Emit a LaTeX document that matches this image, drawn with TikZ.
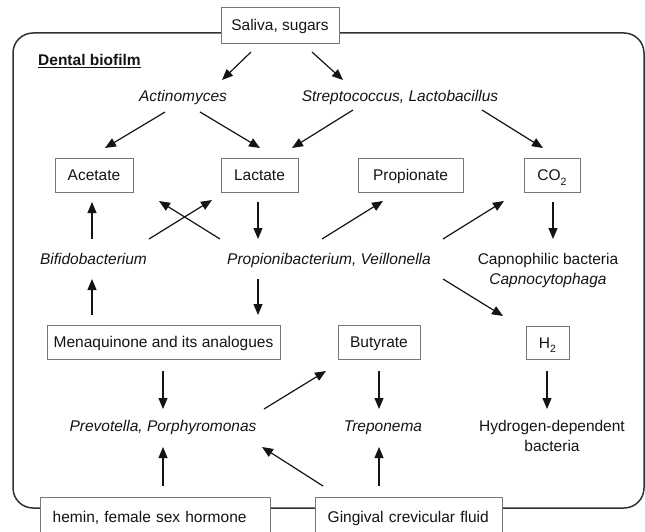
\documentclass[tikz,border=0pt]{standalone}
\usepackage{fontspec}
\setmainfont{Liberation Sans}
\usetikzlibrary{arrows.meta}
\definecolor{framegray}{RGB}{50,50,50}
\definecolor{boxgray}{RGB}{120,120,120}
\definecolor{ink}{RGB}{20,20,20}
\newcommand{\lowsub}[1]{\raisebox{-0.3em}{\fontsize{10.5}{10.5}\selectfont #1}}

\begin{document}
\begin{tikzpicture}[x=1pt, y=-1pt,
    every node/.style={font=\fontsize{15.5}{20.5}\selectfont, text=ink, inner sep=0pt},
    box/.style={draw=boxgray, line width=0.9pt, fill=white,
                minimum height=34pt, text height=11pt, text depth=0pt},
    taxon/.style={anchor=base, font=\fontsize{15.5}{20.5}\selectfont\itshape},
    arr/.style={-{Triangle[length=11pt,width=9pt]}, line width=1.2pt, draw=ink}]
  \useasboundingbox (0,0) rectangle (645,532);
  % biofilm frame
  \draw[framegray, line width=1.5pt, rounded corners=20pt] (13,33) rectangle (644,508);

  \node[box, minimum width=118pt, minimum height=36pt] (sal) at (280,25) {Saliva, sugars};
  \node[anchor=base west, font=\fontsize{15.5}{20.5}\selectfont\bfseries]
    (bio) at (38,65.7) {\underline{Dental biofilm}};
  \node[taxon] (act) at (183,101.5) {Actinomyces};
  \node[taxon] (str) at (400,101.5) {Streptococcus, Lactobacillus};

  \node[box, minimum width=78pt] (ace) at (94,175) {Acetate};
  \node[box, minimum width=77pt] (lac) at (259.5,175) {Lactate};
  \node[box, minimum width=105pt] (pro) at (410.5,175) {Propionate};
  \node[box, minimum width=56pt] (co2) at (552,175) {CO\lowsub{2}};

  \node[taxon] (bif) at (93.5,264) {Bifidobacterium};
  \node[taxon] (pvl) at (329,264) {Propionibacterium, Veillonella};
  \node[anchor=north, align=center] (cap) at (548,253)
    {Capnophilic bacteria\\\textit{Capnocytophaga}};

  \node[box, minimum width=233pt] (men) at (163.5,342) {Menaquinone and its analogues};
  \node[box, minimum width=82pt] (but) at (379,342) {Butyrate};
  \node[box, minimum width=43pt, minimum height=33pt] (hyd) at (547.5,342.5) {H\lowsub{2}};

  \node[taxon] (prev) at (163,431) {Prevotella, Porphyromonas};
  \node[taxon] (tre) at (383,431) {Treponema};
  \node[anchor=north, align=center] (hdb) at (552,420) {Hydrogen-dependent\\bacteria};

  \node[box, text width=204.6pt, align=left, inner xsep=12.7pt, minimum height=40pt]
    (hem) at (155,517) {hemin, female sex hormone};
  \node[box, text width=161.6pt, align=left, inner xsep=12.7pt, minimum height=40pt]
    (gcf) at (408.5,517) {Gingival crevicular fluid};

  % fluxes
  \draw[arr] ([shift={(-29,27)}]sal.center) -- ([shift={(39,-21.5)}]act.base);
  \draw[arr] ([shift={(32,27)}]sal.center) -- ([shift={(-57,-21.5)}]str.base);
  \draw[arr] ([shift={(-18,10.5)}]act.base) -- ([shift={(11,-27)}]ace.center);
  \draw[arr] ([shift={(17,10.5)}]act.base) -- ([shift={(0.5,-27)}]lac.center);
  \draw[arr] ([shift={(-47,8.5)}]str.base) -- ([shift={(32.5,-27)}]lac.center);
  \draw[arr] ([shift={(82,8.5)}]str.base) -- ([shift={(-9,-27)}]co2.center);
  \draw[arr] ([shift={(-1.5,-25)}]bif.base) -- ([shift={(-2,27)}]ace.center);
  \draw[arr] ([shift={(55.5,-25)}]bif.base) -- ([shift={(-47.5,25)}]lac.center);
  \draw[arr] ([shift={(-109,-25)}]pvl.base) -- ([shift={(65,26)}]ace.center);
  \draw[arr] ([shift={(-1.5,27)}]lac.center) -- ([shift={(-71,-25)}]pvl.base);
  \draw[arr] ([shift={(-7,-25)}]pvl.base) -- ([shift={(-27.5,26)}]pro.center);
  \draw[arr] ([shift={(114,-25)}]pvl.base) -- ([shift={(-48,26)}]co2.center);
  \draw[arr] ([shift={(1,27)}]co2.center) -- ([shift={(5,-14)}]cap.north);
  \draw[arr] ([shift={(114,15)}]pvl.base) -- ([shift={(-44.5,-26.5)}]hyd.center);
  \draw[arr] ([shift={(-71.5,-27)}]men.center) -- ([shift={(-1.5,15)}]bif.base);
  \draw[arr] ([shift={(-71,15)}]pvl.base) -- ([shift={(94.5,-27)}]men.center);
  \draw[arr] ([shift={(-0.5,29)}]men.center) -- ([shift={(0,-22)}]prev.base);
  \draw[arr] ([shift={(101,-22)}]prev.base) -- ([shift={(-53,29)}]but.center);
  \draw[arr] ([shift={(0,29)}]but.center) -- ([shift={(-4,-22)}]tre.base);
  \draw[arr] ([shift={(-0.5,28.5)}]hyd.center) -- ([shift={(-5,-11)}]hdb.north);
  \draw[arr] ([shift={(8,-31)}]hem.center) -- ([shift={(0,16)}]prev.base);
  \draw[arr] ([shift={(-85.5,-31)}]gcf.center) -- ([shift={(99,16)}]prev.base);
  \draw[arr] ([shift={(-29.5,-31)}]gcf.center) -- ([shift={(-4,16)}]tre.base);
\end{tikzpicture}
\end{document}
